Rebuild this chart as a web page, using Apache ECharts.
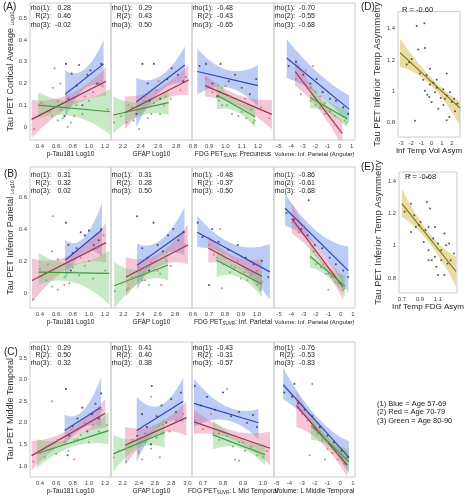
<!DOCTYPE html>
<html><head><meta charset="utf-8">
<script src="https://cdn.jsdelivr.net/npm/echarts@6/dist/echarts.min.js"></script>
<style>html,body{margin:0;padding:0;background:#fff}#c{width:466px;height:500px}</style>
</head><body><div id="c"></div><script>
const FONT = '"Liberation Sans", Arial, sans-serif';

// ---------- tick labels ----------
const ticksA_y = [0, 0.1, 0.2, 0.3, 0.4, 0.5];
const ticksB_y = [0, 0.2, 0.4, 0.6];
const ticksC_y = [1.0, 1.5, 2.0, 2.5, 3.0, 3.5];
const ticksPtau = [0.4, 0.6, 0.8, 1.0, 1.2];
const ticksGfapAB = [2.2, 2.4, 2.6, 2.8];
const ticksGfapC = [2.2, 2.4, 2.6, 2.8, 3.0];
const ticksFdgA = [0.8, 0.9, 1.0, 1.1, 1.2];
const ticksFdgB = [0.6, 0.7, 0.8, 0.9, 1.0];
const ticksFdgC = [0.7, 0.8, 0.9, 1.0];
const ticksVol = [-5, -4, -3, -2, -1, 0, 1];
const ticksD_x = [-3, -2, -1, 0, 1, 2];
const ticksE_x = [0.7, 0.9, 1.1];
const ticksDE_y = [0.8, 1, 1.2, 1.4];

// ---------- axis ranges ----------
const yRangeA = [-0.06, 0.57], yRangeB = [-0.094, 0.788], yRangeC = [0.745, 3.87];
const xRangePtau = [0.28, 1.27];
const xRangeGfapA = [2.064, 2.98], xRangeGfapB = [2.057, 2.998], xRangeGfapC = [2.055, 3.058];
const xRangeFdgA = [0.794, 1.299], xRangeFdgB = [0.594, 1.106], xRangeFdgC = [0.645, 1.055];
const xRangeVolA = [-5.41, 1.27], xRangeVolB = [-5.41, 1.16], xRangeVolC = [-5.21, 1.16];
const xRangeD = [-3.29, 2.78], yRangeD = [0.709, 1.509];
const xRangeE = [0.668, 1.31], yRangeE = [0.707, 1.456];

// ---------- correlation texts ----------
const statsA = [[0.28, 0.46, -0.02], [0.29, 0.43, 0.50], [-0.48, -0.43, -0.65], [-0.70, -0.55, -0.68]];
const statsB = [[0.31, 0.32, 0.02], [0.31, 0.28, 0.50], [-0.48, -0.37, -0.50], [-0.86, -0.61, -0.68]];
const statsC = [[0.29, 0.50, 0.32], [0.41, 0.40, 0.38], [-0.43, -0.31, -0.57], [-0.76, -0.53, -0.83]];
const statNamesR = ['rho(1):', 'R(2):', 'rho(3):'];
const statNamesRho = ['rho(1):', 'rho(2):', 'rho(3):'];
const rD = -0.60, rE = -0.68;

// ---------- fits: [x0, x1, lineY0, lineY1, upper0, upperMid, upper1, lower0, lowerMid, lower1] ----------
const A1_blueFit = [0.71, 1.18, 0.15, 0.29, 0.26, 0.265, 0.40, 0.04, 0.175, 0.18];
const A1_redFit = [0.30, 1.21, 0.035, 0.21, 0.125, 0.15, 0.275, -0.05, 0.09, 0.145];
const A1_greenFit = [0.38, 1.26, 0.10, 0.07, 0.16, 0.12, 0.175, 0.04, 0.048, -0.035];
const A2_blueFit = [2.35, 2.9, 0.115, 0.285, 0.225, 0.235, 0.37, 0.0, 0.165, 0.2];
const A2_redFit = [2.22, 2.94, 0.065, 0.216, 0.14, 0.173, 0.285, -0.01, 0.113, 0.147];
const A2_greenFit = [2.09, 2.715, 0.055, 0.112, 0.14, 0.113, 0.17, -0.03, 0.053, 0.055];
const A3_blueFit = [0.827, 1.2, 0.255, 0.19, 0.36, 0.262, 0.285, 0.15, 0.182, 0.095];
const A3_redFit = [0.874, 1.286, 0.19, 0.058, 0.24, 0.147, 0.125, 0.14, 0.097, -0.01];
const A3_greenFit = [0.946, 1.183, 0.147, 0.047, 0.21, 0.122, 0.10, 0.08, 0.072, -0.005];
const A4_blueFit = [-4.36, 0.78, 0.317, 0.082, 0.405, 0.25, 0.145, 0.225, 0.15, 0.02];
const A4_redFit = [-3.67, 0.22, 0.255, -0.03, 0.32, 0.142, 0.03, 0.19, 0.082, -0.09];
const A4_greenFit = [-2.42, 0.64, 0.135, 0.037, 0.185, 0.115, 0.078, 0.085, 0.065, -0.005];

const B1_blueFit = [0.71, 1.16, 0.205, 0.395, 0.33, 0.345, 0.565, 0.08, 0.255, 0.225];
const B1_redFit = [0.305, 1.21, 0.078, 0.315, 0.215, 0.235, 0.44, -0.06, 0.155, 0.19];
const B1_greenFit = [0.385, 1.25, 0.13, 0.122, 0.25, 0.185, 0.266, 0.05, 0.065, -0.074];
const B2_blueFit = [2.36, 2.91, 0.173, 0.385, 0.31, 0.33, 0.534, 0.02, 0.23, 0.235];
const B2_redFit = [2.23, 2.95, 0.1, 0.3, 0.225, 0.24, 0.43, -0.025, 0.16, 0.18];
const B2_greenFit = [2.095, 2.72, 0.045, 0.175, 0.195, 0.15, 0.276, -0.1, 0.068, 0.078];
const B3_blueFit = [0.627, 1.08, 0.38, 0.132, 0.482, 0.306, 0.307, 0.286, 0.206, -0.043];
const B3_redFit = [0.696, 1.03, 0.28, 0.105, 0.36, 0.227, 0.214, 0.19, 0.157, 0.005];
const B3_greenFit = [0.748, 1.03, 0.205, 0.055, 0.297, 0.167, 0.142, 0.1, 0.097, -0.025];
const B4_blueFit = [-4.51, 0.62, 0.53, 0.14, 0.62, 0.385, 0.29, 0.42, 0.285, 0.0];
const B4_redFit = [-3.97, 0.21, 0.465, 0.035, 0.565, 0.285, 0.11, 0.375, 0.215, -0.045];
const B4_greenFit = [-2.49, 0.35, 0.23, 0.043, 0.307, 0.165, 0.11, 0.16, 0.105, -0.025];

const C1_blueFit = [0.703, 1.148, 1.82, 2.36, 2.19, 2.28, 3.05, 1.47, 1.88, 1.93];
const C1_redFit = [0.3, 1.2, 1.24, 2.22, 1.58, 1.83, 2.55, 0.9, 1.61, 1.89];
const C1_greenFit = [0.367, 1.24, 1.29, 1.82, 1.62, 1.66, 2.25, 0.96, 1.45, 1.5];
const C2_blueFit = [2.373, 2.95, 1.82, 2.5, 2.6, 2.4, 3.05, 1.1, 1.92, 2.0];
const C2_redFit = [2.23, 2.99, 1.48, 2.12, 1.9, 1.96, 2.5, 1.02, 1.72, 1.7];
const C2_greenFit = [2.084, 2.72, 1.28, 1.78, 1.72, 1.66, 2.12, 0.86, 1.42, 1.42];
const C3_blueFit = [0.655, 0.977, 2.45, 2.0, 3.02, 2.38, 2.32, 1.9, 2.06, 1.62];
const C3_redFit = [0.655, 1.035, 2.02, 1.41, 2.3, 1.82, 1.8, 1.74, 1.62, 1.02];
const C3_greenFit = [0.75, 1.01, 1.72, 1.26, 2.05, 1.63, 1.5, 1.38, 1.43, 1.02];
const C4_blueFit = [-4.49, 0.68, 2.88, 1.2, 3.27, 2.16, 1.57, 2.55, 1.88, 0.85];
const C4_redFit = [-3.45, 0.55, 2.4, 1.02, 2.75, 1.8, 1.35, 1.9, 1.52, 0.75];
const C4_greenFit = [-2.29, 0.68, 1.93, 1.1, 2.26, 1.62, 1.4, 1.6, 1.42, 0.8];

const D_fit = [-3.1, 2.78, 1.247, 0.893, 1.337, 1.095, 0.933, 1.156, 1.045, 0.782];
const E_fit = [0.7, 1.30, 1.26, 0.84, 1.352, 1.08, 0.93, 1.177, 1.02, 0.747];

// ---------- scatter points ----------
const A1_bluePts = [[0.72,0.29],[0.75,0.13],[0.79,0.245],[0.88,0.285],[0.92,0.10],[0.98,0.24],[1.02,0.26],[1.10,0.20],[1.15,0.29],[0.85,0.19],[0.70,0.05]];
const A1_redPts = [[0.33,-0.01],[0.45,0.10],[0.52,0.07],[0.56,0.18],[0.58,0.27],[0.65,0.20],[0.74,0.00],[0.82,0.05],[0.95,0.14],[1.05,0.16],[1.12,0.20],[0.62,0.12]];
const A1_greenPts = [[0.42,0.11],[0.55,0.05],[0.62,0.03],[0.68,0.04],[0.72,0.15],[0.78,0.02],[0.85,0.10],[0.92,0.06],[1.0,0.12],[1.23,0.08],[0.66,0.08]];
const A2_bluePts = [[2.35,0.06],[2.42,0.29],[2.48,0.20],[2.55,0.29],[2.62,0.13],[2.70,0.22],[2.75,0.27],[2.82,0.24],[2.88,0.21],[2.50,0.12]];
const A2_redPts = [[2.24,0.02],[2.30,0.09],[2.38,-0.01],[2.45,0.14],[2.52,0.06],[2.58,0.17],[2.66,0.10],[2.74,0.13],[2.85,0.17],[2.91,0.23],[2.60,0.21]];
const A2_greenPts = [[2.10,0.02],[2.18,0.05],[2.26,0.10],[2.32,0.03],[2.40,0.08],[2.48,0.04],[2.55,0.11],[2.62,0.06],[2.68,0.14],[2.44,0.12]];
const A3_bluePts = [[0.84,0.28],[0.88,0.29],[0.92,0.20],[0.97,0.29],[1.02,0.21],[1.06,0.24],[1.10,0.18],[1.15,0.15],[1.19,0.22],[0.95,0.14]];
const A3_redPts = [[0.88,0.22],[0.92,0.16],[0.98,0.10],[1.03,0.14],[1.08,0.05],[1.12,0.13],[1.17,0.02],[1.22,0.09],[1.27,0.04],[1.00,0.19]];
const A3_greenPts = [[0.96,0.12],[0.98,0.18],[1.01,0.10],[1.04,0.06],[1.07,0.13],[1.10,0.07],[1.13,0.04],[1.16,0.08],[1.18,0.03]];
const A4_bluePts = [[-4.2,0.28],[-3.6,0.30],[-3.0,0.24],[-2.4,0.20],[-1.9,0.22],[-1.4,0.16],[-0.8,0.13],[-0.3,0.12],[0.3,0.09],[0.7,0.06]];
const A4_redPts = [[-3.6,0.22],[-3.2,0.15],[-2.8,0.26],[-2.4,0.18],[-2.0,0.10],[-1.6,0.14],[-1.2,0.06],[-0.8,0.08],[-0.4,0.01],[0.1,-0.02],[-2.2,0.28]];
const A4_greenPts = [[-2.4,0.12],[-2.0,0.16],[-1.6,0.09],[-1.2,0.11],[-0.8,0.07],[-0.4,0.05],[0.0,0.06],[0.4,0.03],[0.6,0.02]];

const B1_bluePts = [[0.72,0.44],[0.75,0.30],[0.80,0.25],[0.85,0.28],[0.90,0.38],[0.95,0.36],[1.00,0.39],[1.06,0.30],[1.12,0.33],[1.15,0.40],[0.78,0.14]];
const B1_redPts = [[0.32,-0.04],[0.42,0.10],[0.50,0.18],[0.55,0.26],[0.62,0.21],[0.70,0.05],[0.80,0.16],[0.90,0.22],[1.00,0.20],[1.10,0.28],[1.18,0.36],[0.56,0.48]];
const B1_greenPts = [[0.40,0.15],[0.48,0.08],[0.55,0.04],[0.62,0.02],[0.70,0.10],[0.76,0.06],[0.82,0.13],[0.88,0.11],[0.95,0.17],[1.05,0.09],[1.20,0.14]];
const B2_bluePts = [[2.36,0.48],[2.42,0.28],[2.48,0.22],[2.55,0.44],[2.60,0.30],[2.66,0.26],[2.72,0.36],[2.78,0.40],[2.84,0.33],[2.90,0.38],[2.50,0.14]];
const B2_redPts = [[2.24,0.02],[2.30,0.10],[2.38,0.16],[2.45,0.08],[2.52,0.19],[2.60,0.14],[2.68,0.22],[2.75,0.17],[2.82,0.26],[2.92,0.30],[2.64,0.05]];
const B2_greenPts = [[2.10,0.01],[2.18,0.06],[2.26,0.03],[2.34,0.10],[2.42,0.08],[2.50,0.05],[2.56,0.14],[2.63,0.12],[2.70,0.20],[2.46,0.16]];
const B3_bluePts = [[0.63,0.44],[0.66,0.35],[0.72,0.40],[0.76,0.32],[0.82,0.27],[0.88,0.30],[0.93,0.22],[0.98,0.18],[1.03,0.20],[1.07,0.10],[0.70,0.05]];
const B3_redPts = [[0.70,0.30],[0.73,0.24],[0.77,0.40],[0.80,0.22],[0.84,0.17],[0.88,0.20],[0.92,0.13],[0.96,0.11],[1.00,0.14],[1.03,0.07],[0.78,0.03]];
const B3_greenPts = [[0.75,0.22],[0.79,0.18],[0.83,0.13],[0.86,0.16],[0.90,0.09],[0.94,0.08],[0.97,0.12],[1.00,0.05],[1.02,0.02]];
const B4_bluePts = [[-4.4,0.50],[-3.8,0.46],[-3.2,0.40],[-2.7,0.36],[-2.1,0.30],[-1.5,0.28],[-0.9,0.22],[-0.4,0.18],[0.2,0.14],[0.6,0.10],[-2.6,0.58]];
const B4_redPts = [[-3.9,0.44],[-3.4,0.38],[-3.0,0.42],[-2.6,0.32],[-2.2,0.26],[-1.8,0.24],[-1.4,0.18],[-1.0,0.12],[-0.6,0.10],[-0.2,0.06],[0.2,0.02]];
const B4_greenPts = [[-2.4,0.22],[-2.0,0.18],[-1.6,0.16],[-1.2,0.12],[-0.8,0.10],[-0.4,0.07],[0.0,0.05],[0.3,0.03],[-1.0,0.02]];

const C1_bluePts = [[0.72,2.78],[0.76,1.70],[0.80,1.92],[0.86,2.10],[0.92,2.35],[0.98,1.80],[1.04,2.20],[1.08,2.44],[1.12,2.10],[1.15,2.68],[0.74,1.25]];
const C1_redPts = [[0.32,1.10],[0.40,1.30],[0.48,1.45],[0.55,2.50],[0.62,1.60],[0.70,1.55],[0.78,1.85],[0.86,1.62],[0.95,2.00],[1.05,1.95],[1.15,2.30],[0.82,1.15]];
const C1_greenPts = [[0.38,1.30],[0.46,1.20],[0.54,1.40],[0.60,1.28],[0.68,1.50],[0.75,1.35],[0.82,1.60],[0.90,1.72],[1.00,1.55],[1.12,1.80],[1.22,1.95]];
const C2_bluePts = [[2.38,1.70],[2.44,2.20],[2.50,1.90],[2.56,2.85],[2.62,2.15],[2.68,2.40],[2.74,2.00],[2.80,2.55],[2.86,2.25],[2.92,2.70],[2.55,1.50]];
const C2_redPts = [[2.24,1.40],[2.32,1.60],[2.40,1.35],[2.48,1.75],[2.55,2.60],[2.62,1.70],[2.70,1.95],[2.78,1.80],[2.86,2.05],[2.95,2.20],[2.66,1.20]];
const C2_greenPts = [[2.09,1.20],[2.16,1.35],[2.24,1.10],[2.32,1.45],[2.40,1.30],[2.48,1.55],[2.55,1.40],[2.62,1.65],[2.70,1.75],[2.44,1.15]];
const C3_bluePts = [[0.66,2.85],[0.69,2.40],[0.72,2.60],[0.76,2.30],[0.80,2.70],[0.84,2.15],[0.88,2.25],[0.92,2.00],[0.95,2.18],[0.97,1.90]];
const C3_redPts = [[0.66,2.05],[0.70,1.85],[0.74,2.20],[0.78,1.75],[0.82,2.78],[0.86,1.70],[0.90,1.55],[0.94,1.45],[0.98,1.50],[1.02,1.35],[0.88,1.12]];
const C3_greenPts = [[0.75,1.75],[0.78,1.60],[0.82,1.70],[0.85,1.45],[0.88,1.55],[0.91,1.35],[0.94,1.40],[0.97,1.25],[1.00,1.20],[0.86,1.15]];
const C4_bluePts = [[-4.4,2.70],[-3.8,2.60],[-3.3,2.45],[-2.8,2.30],[-2.2,2.15],[-1.6,1.90],[-1.0,1.70],[-0.5,1.55],[0.1,1.35],[0.6,1.20],[-3.6,2.90]];
const C4_redPts = [[-3.4,2.40],[-3.0,2.20],[-2.6,2.05],[-2.2,2.90],[-1.8,1.80],[-1.4,1.60],[-1.0,1.40],[-0.6,1.30],[-0.2,1.15],[0.3,1.05],[-2.4,1.25]];
const C4_greenPts = [[-2.2,1.90],[-1.8,1.75],[-1.4,1.65],[-1.0,1.55],[-0.6,1.40],[-0.2,1.30],[0.2,1.20],[0.6,1.12],[-1.2,1.15]];

const D_pts = [[-1.46,1.418],[-0.71,1.435],[-1.30,1.267],[-0.65,1.277],[-2.19,1.186],[-2.44,1.172],[-1.95,1.206],[-1.14,1.115],[-0.16,1.145],[-0.48,1.105],[-0.81,1.075],[-0.16,1.044],[0.5,1.075],[0.5,1.024],[0.33,0.994],[1.15,1.014],[1.31,0.953],[1.48,1.115],[1.8,0.994],[1.48,0.974],[1.97,0.933],[2.2,0.953],[2.52,0.923],[1.15,0.913],[0.66,0.889],[0.0,0.933],[-0.23,0.964],[-0.65,1.004],[-0.42,0.978],[-1.63,0.812],[1.74,0.836],[1.48,0.816],[2.29,0.873],[0.17,1.055],[0.89,0.958]];
const E_pts = [[0.784,1.434],[0.977,1.423],[0.80,1.26],[0.73,1.21],[0.837,1.188],[0.907,1.147],[0.854,1.116],[0.80,1.085],[0.96,1.095],[0.995,1.116],[0.977,1.27],[1.01,1.23],[1.065,1.116],[1.17,1.075],[1.047,1.044],[0.995,0.972],[1.10,1.014],[1.135,0.972],[1.187,1.003],[1.223,1.014],[1.065,0.931],[1.03,0.91],[1.135,0.91],[1.205,0.89],[1.24,0.91],[1.10,0.818],[1.17,0.818],[1.082,0.87],[1.276,0.952],[0.995,0.91],[0.942,1.023],[0.89,1.126]];

// ---------- layout & style ----------
const COL_L = [30, 111, 192, 274], COL_W = [81, 81, 82, 81];
const ROW_T = [3, 167, 342], ROW_H = [137, 141, 135];
const BAND = ['rgba(95,135,230,0.42)', 'rgba(228,105,145,0.38)', 'rgba(115,200,110,0.40)'];
const LINE = ['#3346b8', '#9c3350', '#3f9a3f'];
const PT = ['#3a3d58', '#e2668e', '#5fb55f'];

const rows = [
  { yRange: yRangeA, yTicks: ticksA_y, yDec: null, yName: 'Tau PET Cortical Average {sub|Log10}', statY: [8, 16.5, 25], stats: statsA,
    cols: [
      { xr: xRangePtau, t: ticksPtau, name: 'p-Tau181 Log10', fits: [A1_blueFit, A1_redFit, A1_greenFit], pts: [A1_bluePts, A1_redPts, A1_greenPts], sn: statNamesR },
      { xr: xRangeGfapA, t: ticksGfapAB, name: 'GFAP Log10', fits: [A2_blueFit, A2_redFit, A2_greenFit], pts: [A2_bluePts, A2_redPts, A2_greenPts], sn: statNamesR },
      { xr: xRangeFdgA, t: ticksFdgA, name: 'FDG PET{sub|SUVR}: Precuneus', fits: [A3_blueFit, A3_redFit, A3_greenFit], pts: [A3_bluePts, A3_redPts, A3_greenPts], sn: statNamesR },
      { xr: xRangeVolA, t: ticksVol, name: 'Volume: Inf. Parietal (Angular)', fits: [A4_blueFit, A4_redFit, A4_greenFit], pts: [A4_bluePts, A4_redPts, A4_greenPts], sn: statNamesRho, dec0: true, small: true }
    ] },
  { yRange: yRangeB, yTicks: ticksB_y, yDec: null, yName: 'Tau PET Inferior Parietal {sub|Log10}', statY: [175, 183, 191], stats: statsB,
    cols: [
      { xr: xRangePtau, t: ticksPtau, name: 'p-Tau181 Log10', fits: [B1_blueFit, B1_redFit, B1_greenFit], pts: [B1_bluePts, B1_redPts, B1_greenPts], sn: statNamesR },
      { xr: xRangeGfapB, t: ticksGfapAB, name: 'GFAP Log10', fits: [B2_blueFit, B2_redFit, B2_greenFit], pts: [B2_bluePts, B2_redPts, B2_greenPts], sn: statNamesR },
      { xr: xRangeFdgB, t: ticksFdgB, name: 'FDG PET{sub|SUVR}: Inf. Parietal', fits: [B3_blueFit, B3_redFit, B3_greenFit], pts: [B3_bluePts, B3_redPts, B3_greenPts], sn: statNamesR },
      { xr: xRangeVolB, t: ticksVol, name: 'Volume: Inf. Parietal (Angular)', fits: [B4_blueFit, B4_redFit, B4_greenFit], pts: [B4_bluePts, B4_redPts, B4_greenPts], sn: statNamesRho, dec0: true, small: true }
    ] },
  { yRange: yRangeC, yTicks: ticksC_y, yDec: 1, yName: 'Tau PET Middle Temporal', statY: [348, 355.5, 363], stats: statsC,
    cols: [
      { xr: xRangePtau, t: ticksPtau, name: 'p-Tau181 Log10', fits: [C1_blueFit, C1_redFit, C1_greenFit], pts: [C1_bluePts, C1_redPts, C1_greenPts], sn: statNamesR },
      { xr: xRangeGfapC, t: ticksGfapC, name: 'GFAP Log10', fits: [C2_blueFit, C2_redFit, C2_greenFit], pts: [C2_bluePts, C2_redPts, C2_greenPts], sn: statNamesR },
      { xr: xRangeFdgC, t: ticksFdgC, name: 'FDG PET{sub|SUVR}: L Mid Temporal', fits: [C3_blueFit, C3_redFit, C3_greenFit], pts: [C3_bluePts, C3_redPts, C3_greenPts], sn: statNamesR },
      { xr: xRangeVolC, t: ticksVol, name: 'Volume: L Middle Temporal', fits: [C4_blueFit, C4_redFit, C4_greenFit], pts: [C4_bluePts, C4_redPts, C4_greenPts], sn: statNamesR, dec0: true }
    ] }
];

const grids = [], xAxes = [], yAxes = [], series = [], graphics = [];
const richSub = { sub: { fontSize: 4.5, fontFamily: FONT, color: '#222', verticalAlign: 'bottom' } };

function fmt(dec) { return v => dec == null ? String(v) : v.toFixed(dec); }

function bandSeries(idx, fit, color) {
  return {
    type: 'custom', xAxisIndex: idx, yAxisIndex: idx, silent: true, z: 1, clip: true,
    data: [[fit[0], fit[2]]],
    renderItem: function (params, api) {
      const x0 = fit[0], x1 = fit[1], xm = (x0 + x1) / 2;
      const a = api.coord([x0, fit[4]]), b = api.coord([xm, fit[5]]), c = api.coord([x1, fit[6]]);
      const d = api.coord([x1, fit[9]]), e = api.coord([xm, fit[8]]), f = api.coord([x0, fit[7]]);
      const cu = 2 * b[1] - (a[1] + c[1]) / 2, cl = 2 * e[1] - (d[1] + f[1]) / 2;
      const p = 'M' + a[0] + ' ' + a[1] + 'Q' + b[0] + ' ' + cu + ' ' + c[0] + ' ' + c[1] +
        'L' + d[0] + ' ' + d[1] + 'Q' + e[0] + ' ' + cl + ' ' + f[0] + ' ' + f[1] + 'Z';
      return { type: 'path', shape: { pathData: p }, style: { fill: color, stroke: null } };
    }
  };
}
function lineSeries(idx, fit, color, w) {
  return { type: 'line', xAxisIndex: idx, yAxisIndex: idx, silent: true, z: 3, symbol: 'none',
    data: [[fit[0], fit[2]], [fit[1], fit[3]]], lineStyle: { color: color, width: w || 1.2 } };
}
function scatterSeries(idx, pts, color, size) {
  return { type: 'scatter', xAxisIndex: idx, yAxisIndex: idx, silent: true, z: 4,
    data: pts, symbolSize: size || 2.1, itemStyle: { color: color, opacity: 0.85 } };
}
function txt(x, y, s, size, align, extra) {
  graphics.push(Object.assign({ type: 'text', x: x, y: y, silent: true,
    style: { text: s, fontSize: size, fontFamily: FONT, fill: '#222', align: align || 'left', verticalAlign: 'middle' } }, extra || {}));
}

let idx = 0;
rows.forEach((row, r) => {
  row.cols.forEach((col, c) => {
    grids.push({ left: COL_L[c], top: ROW_T[r], width: COL_W[c], height: ROW_H[r], show: true, borderColor: '#cccccc', borderWidth: 1, backgroundColor: 'transparent' });
    xAxes.push({ gridIndex: idx, type: 'value', min: col.xr[0], max: col.xr[1],
      axisLine: { show: false }, axisTick: { show: false }, splitLine: { show: false },
      axisLabel: { customValues: col.t, formatter: fmt(col.dec0 ? null : 1), fontSize: 6, color: '#444', fontFamily: FONT, margin: 3 },
      name: col.name, nameLocation: 'middle', nameGap: 11,
      nameTextStyle: { fontSize: col.small ? 6 : 6.6, color: '#222', fontFamily: FONT, rich: richSub } });
    yAxes.push({ gridIndex: idx, type: 'value', min: row.yRange[0], max: row.yRange[1],
      axisLine: { show: false }, axisTick: { show: false }, splitLine: { show: false },
      axisLabel: { show: c === 0, customValues: row.yTicks, formatter: fmt(row.yDec), fontSize: 6, color: '#444', fontFamily: FONT, margin: 3 },
      name: c === 0 ? row.yName : '', nameLocation: 'middle', nameGap: 13, nameRotate: 90,
      nameTextStyle: { fontSize: 9, color: '#333', fontFamily: FONT, rich: { sub: { fontSize: 5, fontFamily: FONT, color: '#333', verticalAlign: 'bottom' } } } });
    for (let g = 0; g < 3; g++) series.push(bandSeries(idx, col.fits[g], BAND[g]));
    for (let g = 0; g < 3; g++) series.push(lineSeries(idx, col.fits[g], LINE[g]));
    for (let g = 0; g < 3; g++) series.push(scatterSeries(idx, col.pts[g], PT[g]));
    for (let k = 0; k < 3; k++) {
      txt(COL_L[c] + 21, row.statY[k], col.sn[k], 7, 'right');
      txt(COL_L[c] + 41, row.statY[k], row.stats[c][k].toFixed(2), 7, 'right');
    }
    idx++;
  });
});

// Panels D and E
const side = [
  { grid: { left: 398, top: 5, width: 62, height: 132 }, xr: xRangeD, yr: yRangeD, xt: ticksD_x, xdec: null, name: 'Inf Temp Vol Asym', fit: D_fit, pts: D_pts },
  { grid: { left: 399, top: 172, width: 61, height: 121 }, xr: xRangeE, yr: yRangeE, xt: ticksE_x, xdec: 1, name: 'Inf Temp FDG Asym', fit: E_fit, pts: E_pts }
];
side.forEach(s => {
  grids.push(Object.assign({ show: true, borderColor: '#cccccc', borderWidth: 1 }, s.grid));
  xAxes.push({ gridIndex: idx, type: 'value', min: s.xr[0], max: s.xr[1],
    axisLine: { show: false }, axisTick: { show: false }, splitLine: { show: false },
    axisLabel: { customValues: s.xt, formatter: fmt(s.xdec), fontSize: 6, color: '#444', fontFamily: FONT, margin: 3 },
    name: s.name, nameLocation: 'middle', nameGap: 10, nameTextStyle: { fontSize: 8, color: '#222', fontFamily: FONT } });
  yAxes.push({ gridIndex: idx, type: 'value', min: s.yr[0], max: s.yr[1],
    axisLine: { show: false }, axisTick: { show: false }, splitLine: { show: false },
    axisLabel: { customValues: ticksDE_y, formatter: fmt(null), fontSize: 6, color: '#444', fontFamily: FONT, margin: 3 },
    name: 'Tau PET Inferior Temp Asymmetry', nameLocation: 'middle', nameGap: 15, nameRotate: 90,
    nameTextStyle: { fontSize: 9.5, color: '#333', fontFamily: FONT } });
  series.push(bandSeries(idx, s.fit, 'rgba(214,188,70,0.5)'));
  series.push(lineSeries(idx, s.fit, '#77701e', 1.1));
  series.push(scatterSeries(idx, s.pts, '#3a3a3a', 2.0));
  idx++;
});

txt(402, 10, 'R = ' + rD.toFixed(2), 7.5, 'left');
txt(405, 177, 'R = ' + rE.toFixed(2), 7.5, 'left');
txt(3, 7, '(A)', 10, 'left');
txt(4, 174, '(B)', 10, 'left');
txt(4, 352, '(C)', 10, 'left');
txt(361, 7, '(D)', 10, 'left');
txt(361, 167, '(E)', 10, 'left');
txt(377, 403.5, '(1) Blue = Age 57-69', 7.5, 'left');
txt(377, 412, '(2) Red = Age 70-79', 7.5, 'left');
txt(377, 420.5, '(3) Green = Age 80-90', 7.5, 'left');

const chart = echarts.init(document.getElementById('c'), null, { renderer: 'canvas' });
chart.setOption({
  animation: false,
  backgroundColor: '#ffffff',
  textStyle: { fontFamily: FONT },
  grid: grids, xAxis: xAxes, yAxis: yAxes, series: series, graphic: graphics
});
</script></body></html>
